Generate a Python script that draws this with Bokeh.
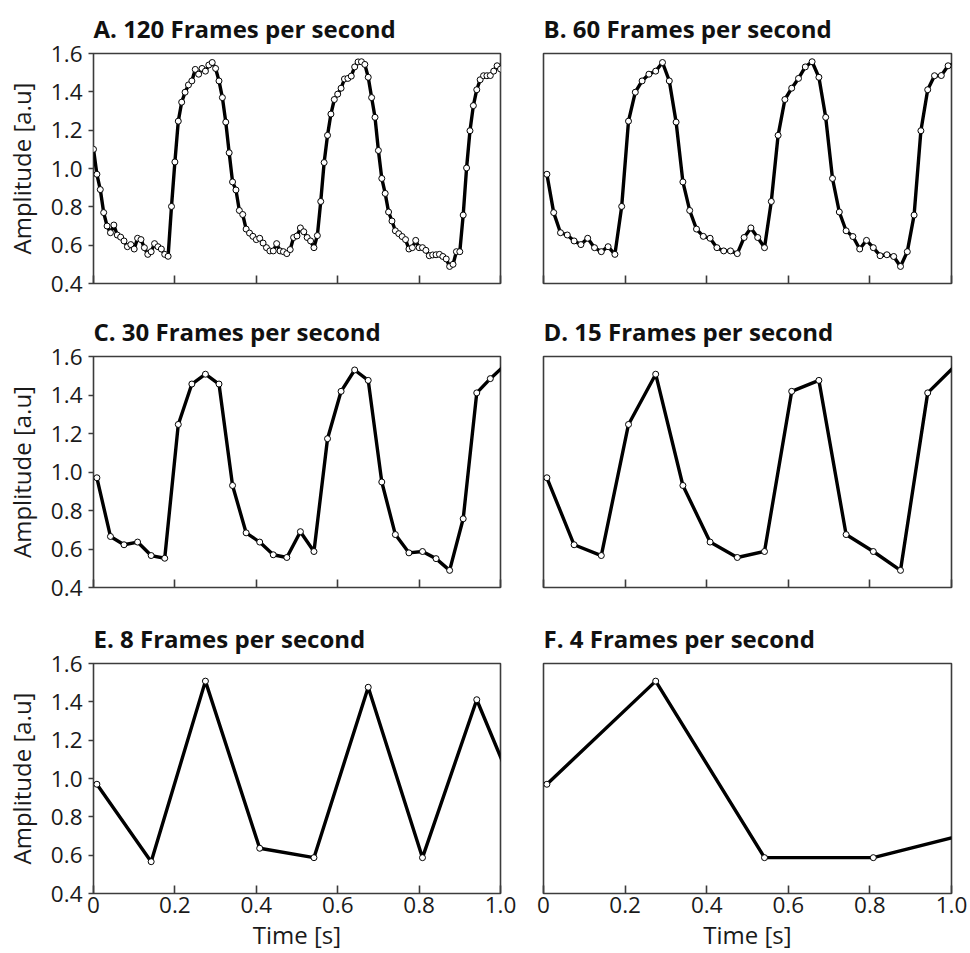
import numpy as np
from bokeh.plotting import figure
from bokeh.layouts import column, row
from bokeh.models import Range1d, FixedTicker
from bokeh.embed import file_html
from bokeh.resources import INLINE

# ---------------- data ----------------
capture_rate = 120  # frames per second of the full-rate recording

# amplitude of every frame of the 120 fps recording, frames 0..120 (t = 0 .. 1 s)
amp_120fps = [
    1.10, 0.97, 0.89, 0.77, 0.70, 0.665, 0.705, 0.653, 0.642, 0.622,
    0.592, 0.603, 0.580, 0.636, 0.629, 0.587, 0.552, 0.566, 0.608, 0.592,
    0.580, 0.552, 0.542, 0.802, 1.034, 1.247, 1.346, 1.398, 1.436, 1.457,
    1.517, 1.492, 1.522, 1.508, 1.540, 1.553, 1.522, 1.457, 1.370, 1.242,
    1.082, 0.930, 0.888, 0.781, 0.760, 0.684, 0.663, 0.646, 0.629, 0.636,
    0.611, 0.587, 0.570, 0.570, 0.608, 0.570, 0.566, 0.556, 0.577, 0.640,
    0.648, 0.690, 0.670, 0.640, 0.622, 0.587, 0.650, 0.828, 1.031, 1.173,
    1.284, 1.360, 1.388, 1.419, 1.467, 1.470, 1.482, 1.530, 1.556, 1.557,
    1.543, 1.476, 1.370, 1.267, 1.094, 0.948, 0.870, 0.773, 0.726, 0.675,
    0.660, 0.645, 0.629, 0.580, 0.587, 0.625, 0.587, 0.587, 0.573, 0.545,
    0.549, 0.550, 0.552, 0.541, 0.528, 0.489, 0.500, 0.566, 0.566, 0.757,
    1.003, 1.197, 1.328, 1.411, 1.463, 1.484, 1.484, 1.485, 1.508, 1.536,
    1.519,
]
# frames just after 1 s, only seen as the line running out of the frame
after_frames = [121, 129]
after_amp = [1.55, 0.73]

panel_titles = [
    "A. 120 Frames per second",
    "B. 60 Frames per second",
    "C. 30 Frames per second",
    "D. 15 Frames per second",
    "E. 8 Frames per second",
    "F. 4 Frames per second",
]
panel_first_frame = [0, 1, 1, 1, 1, 1]
panel_frame_step = [1, 2, 4, 8, 16, 32]

x_ticks = [0, 0.2, 0.4, 0.6, 0.8, 1.0]
x_tick_labels = ["0", "0.2", "0.4", "0.6", "0.8", "1.0"]
y_ticks = [0.4, 0.6, 0.8, 1.0, 1.2, 1.4, 1.6]
y_tick_labels = ["0.4", "0.6", "0.8", "1.0", "1.2", "1.4", "1.6"]
x_label = "Time [s]"
y_label = "Amplitude [a.u]"

# ---------------- styling ----------------
FONT = "Open Sans"
INK = "#1a1a1a"
FRAME = "#3c3c3c"

lookup = {i: v for i, v in enumerate(amp_120fps)}
lookup.update(dict(zip(after_frames, after_amp)))


def panel_series(first, step):
    frames = list(range(first, len(amp_120fps), step))
    nxt = frames[-1] + step
    if nxt in lookup:
        frames.append(nxt)
    t = [f / capture_rate for f in frames]
    a = [lookup[f] for f in frames]
    return t, a


def make_panel(k):
    col = k % 2
    rw = k // 2
    left = col == 0
    bottom = rw == 2

    if left:
        w, mbl, mbr = 520, 93, 20
    else:
        w, mbl, mbr = 450, 23, 19
    if rw == 0:
        h, mbt, mbb = 303, 52, 20
    elif rw == 1:
        h, mbt, mbb = 304, 53, 20
    else:
        h, mbt, mbb = 346, 56, 60

    p = figure(width=w, height=h, min_border_left=mbl, min_border_right=mbr,
               min_border_top=mbt, min_border_bottom=mbb,
               x_range=Range1d(x_ticks[0], x_ticks[-1]),
               y_range=Range1d(y_ticks[0], y_ticks[-1]),
               output_backend="svg", toolbar_location=None,
               title=panel_titles[k])
    p.title.align = "left"
    p.title.text_font = FONT
    p.title.text_font_size = "24px"
    p.title.text_font_style = "bold"
    p.title.text_color = "#111111"
    p.title.standoff = 18
    p.title.offset = 0

    p.grid.visible = False
    p.outline_line_color = FRAME
    p.outline_line_width = 1.6
    p.background_fill_color = "white"
    p.border_fill_color = "white"

    # x axis: inward ticks
    xa = p.xaxis[0]
    xa.ticker = FixedTicker(ticks=x_ticks)
    xa.major_label_overrides = dict(zip(x_ticks, x_tick_labels))
    xa.axis_line_color = None
    xa.major_tick_in = 8
    xa.major_tick_out = 0
    xa.major_tick_line_color = FRAME
    xa.major_tick_line_width = 1.6
    xa.minor_tick_line_color = None
    xa.major_label_text_font = FONT
    xa.major_label_text_color = INK
    if bottom:
        xa.major_label_text_font_size = "22.5px"
        xa.major_label_text_line_height = 1.0
        xa.major_label_standoff = 3
        xa.axis_label = x_label
        xa.axis_label_text_font = FONT
        xa.axis_label_text_font_size = "24px"
        xa.axis_label_text_font_style = "normal"
        xa.axis_label_text_color = INK
        xa.axis_label_text_line_height = 1.0
        xa.axis_label_standoff = 2
    else:
        xa.major_label_text_font_size = "0px"
        xa.major_label_standoff = 0

    ya = p.yaxis[0]
    if left:
        ya.ticker = FixedTicker(ticks=y_ticks)
        ya.major_label_overrides = dict(zip(y_ticks, y_tick_labels))
        ya.axis_line_color = None
        ya.major_tick_in = 0
        ya.major_tick_out = 5
        ya.major_tick_line_color = FRAME
        ya.major_tick_line_width = 1.6
        ya.minor_tick_line_color = None
        ya.major_label_text_font = FONT
        ya.major_label_text_font_size = "22.5px"
        ya.major_label_text_color = INK
        ya.major_label_standoff = 6
        ya.axis_label = y_label
        ya.axis_label_text_font = FONT
        ya.axis_label_text_font_size = "24px"
        ya.axis_label_text_font_style = "normal"
        ya.axis_label_text_color = INK
        ya.axis_label_standoff = 10
    else:
        ya.visible = False

    t, a = panel_series(panel_first_frame[k], panel_frame_step[k])
    p.line(t, a, line_color="black", line_width=3.4, line_join="round")
    p.scatter(t, a, size=6, marker="circle", fill_color="white",
              line_color="black", line_width=1.0)
    return p


panels = [make_panel(k) for k in range(6)]
layout = column(row(panels[0], panels[1]),
                row(panels[2], panels[3]),
                row(panels[4], panels[5]))

open("out.html", "w").write(file_html(layout, INLINE))
